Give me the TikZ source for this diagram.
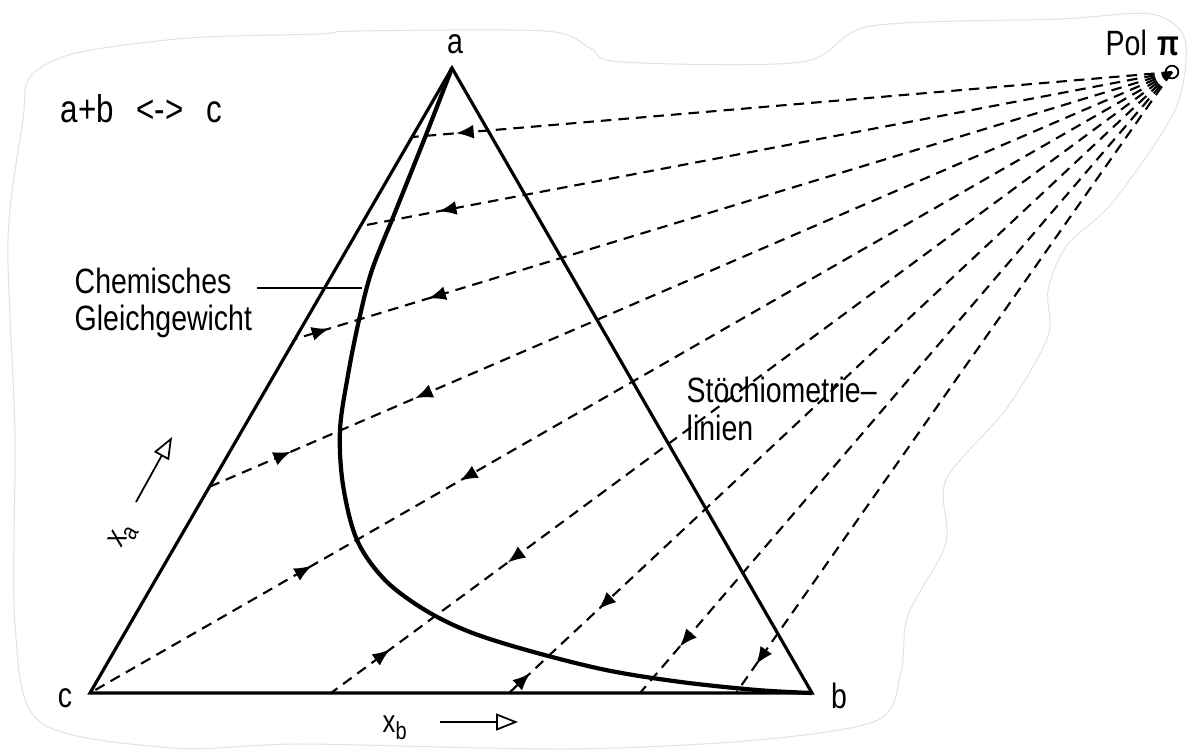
\documentclass[tikz,border=0pt]{standalone}
\usepackage{fontspec}
\setmainfont{Liberation Sans}[FakeStretch=0.81]
\usetikzlibrary{arrows.meta,decorations.markings}
\begin{document}
\begin{tikzpicture}[x=0.01cm,y=-0.01cm,
  edge/.style={line width=0.9pt, line join=miter},
  eqcurve/.style={line width=1.2pt},
  stoich/.style={line width=0.6pt, dash pattern=on 3pt off 2pt, postaction={decorate}},
  lbl/.style={font=\fontsize{10}{12}\selectfont, inner sep=0pt},
  thinline/.style={line width=0.45pt},
  axarrow/.style={line width=0.5pt, -{Triangle[open,length=6.2pt,width=4.8pt]}},
  >={Latex[length=5pt,width=4pt]}
]
\useasboundingbox (0,0) rectangle (1187,753);
% faint outline of the cut-out
\draw[gray!22, line width=0.3pt] plot[smooth cycle, tension=0.5] coordinates {
 (30,77) (76,53) (189,38) (318,34) (356,31) (545,31) (590,48) (621,62) (802,62)
 (871,26) (1060,19) (1151,14) (1185,40) (1175,110) (1113,202) (1067,245) (1048,290)
 (1048,336) (1007,408) (946,480) (946,543) (908,615) (901,672) (878,720) (757,740)
 (568,749) (303,744) (173,748) (40,722) (15,624) (15,432) (8,240) (23,120)};

% vertices
\coordinate (A) at (452,68);
\coordinate (B) at (812,693);
\coordinate (C) at (90,693);
\coordinate (P) at (1172,72);
% end points of stoichiometry lines
\coordinate (e1) at (412,137);
\coordinate (e2) at (361,226);
\coordinate (e3) at (295,339);
\coordinate (e4) at (209,487);
\coordinate (e6) at (331,693);
\coordinate (e7) at (509,693);
\coordinate (e8) at (640,693);
\coordinate (e9) at (736,693);

% stoichiometry lines
\draw[stoich, decoration={markings, mark=at position 0.942 with {\arrow{>}}}] (P) -- (e1);
\draw[stoich, decoration={markings, mark=at position 0.904 with {\arrow{>}}}] (P) -- (e2);
\draw[stoich, decoration={markings, mark=at position 0.848 with {\arrow{>}}, mark=at position 0.961 with {\arrowreversed{>}}}] (P) -- (e3);
\draw[stoich, decoration={markings, mark=at position 0.786 with {\arrow{>}}, mark=at position 0.915 with {\arrowreversed{>}}}] (P) -- (e4);
\draw[stoich, decoration={markings, mark=at position 0.658 with {\arrow{>}}, mark=at position 0.795 with {\arrowreversed{>}}}] (P) -- (C);
\draw[stoich, decoration={markings, mark=at position 0.790 with {\arrow{>}}, mark=at position 0.930 with {\arrowreversed{>}}}] (P) -- (e6);
\draw[stoich, decoration={markings, mark=at position 0.865 with {\arrow{>}}, mark=at position 0.968 with {\arrowreversed{>}}}] (P) -- (e7);
\draw[stoich, decoration={markings, mark=at position 0.925 with {\arrow{>}}}] (P) -- (e8);
\draw[stoich, decoration={markings, mark=at position 0.954 with {\arrow{>}}}] (P) -- (e9);

% pole
\draw[line width=0.5pt] (P) circle[radius=1.8pt];

% triangle
\draw[edge] (A) -- (B) -- (C) -- cycle;

% equilibrium curve
\draw[eqcurve] plot[smooth, tension=0.55] coordinates {
 (452,68) (424,140) (396,210) (372,270) (359,320) (348,375) (340,430) (343,485)
 (357,540) (385,580) (425,610) (470,632) (530,651) (606,670) (681,682) (757,690) (812,693)};

% leader line
\coordinate (l1) at (257,288);
\coordinate (l2) at (362,288);
\draw[thinline] (l1) -- (l2);

% labels
\node[lbl, anchor=base] (la) at (455,53) {a};
\node[lbl, anchor=base] (lb) at (839,708) {b};
\node[lbl, anchor=base] (lc) at (65,707) {c};
\node[lbl, font=\fontsize{11}{13}\selectfont, anchor=base west] (react) at (60,122) {a+b\hspace{4pt} <->\hspace{4pt} c};
\node[lbl, anchor=base west] (chem1) at (74,293) {Chemisches};
\node[lbl, anchor=base west] (chem2) at (74,330) {Gleichgewicht};
\node[lbl, anchor=base west] (st1) at (686,402) {Stöchiometrie–};
\node[lbl, anchor=base west] (st2) at (686,440) {linien};
\node[lbl, anchor=base west] (pol) at (1105,55) {Pol};
\node[lbl, anchor=base] (pi) at (1168,55) {\textbf{π}};

% axis arrows
\coordinate (xa1) at (136,502);
\coordinate (xa2) at (172,437);
\draw[axarrow] (xa1) -- (xa2);
\node[lbl, rotate=60] (xa) at (123,536) {{\fontsize{9}{10}\selectfont x\raisebox{-2pt}{\fontsize{7}{8}\selectfont a}}};
\coordinate (xb1) at (440,722);
\coordinate (xb2) at (518,722);
\draw[axarrow] (xb1) -- (xb2);
\node[lbl, anchor=base west] (xb) at (382,732) {{\fontsize{9}{10}\selectfont x\raisebox{-2pt}{\fontsize{7}{8}\selectfont b}}};
\end{tikzpicture}
\end{document}
